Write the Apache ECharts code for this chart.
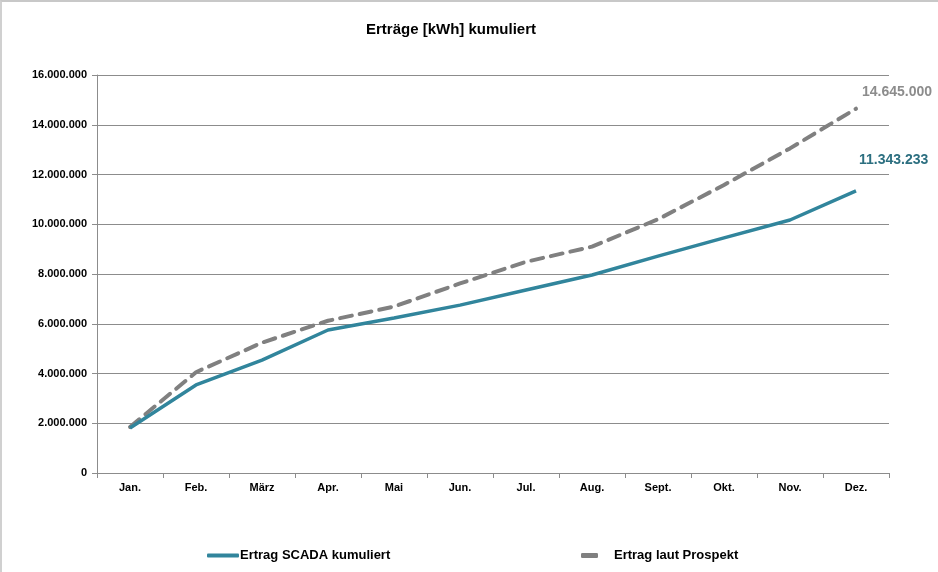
<!DOCTYPE html>
<html>
<head>
<meta charset="utf-8">
<script src="https://cdn.jsdelivr.net/npm/echarts@6/dist/echarts.min.js"></script>
<style>
  html, body { margin: 0; padding: 0; background: #fff; }
  #chart { width: 938px; height: 572px; box-sizing: border-box; border-top: 2px solid #c8c8c8; border-left: 2px solid #d0d0d0; }
</style>
</head>
<body>
<div id="chart"></div>
<script>
// Monate
var months = ['Jan.', 'Feb.', 'März', 'Apr.', 'Mai', 'Jun.', 'Jul.', 'Aug.', 'Sept.', 'Okt.', 'Nov.', 'Dez.']
// kumulierte Erträge in kWh
var scadaValues = [1810000, 3540000, 4540000, 5750000, 6230000, 6750000, 7360000, 7960000, 8720000, 9450000, 10170000, 11343233]
var prospektValues = [1850000, 4050000, 5240000, 6120000, 6690000, 7620000, 8490000, 9100000, 10200000, 11580000, 13050000, 14645000]
var yTicks = [0, 2000000, 4000000, 6000000, 8000000, 10000000, 12000000, 14000000, 16000000]

var font = 'Liberation Sans, Arial, sans-serif'

function deNum(v) {
  return String(v).replace(/\B(?=(\d{3})+(?!\d))/g, '.')
}

var chart = echarts.init(document.getElementById('chart'))
chart.setOption({
  animation: false,
  textStyle: { fontFamily: font },
  title: {
    text: 'Erträge [kWh] kumuliert',
    left: 359,
    top: 15,
    textStyle: { fontSize: 15, fontWeight: 'bold', color: '#000', fontFamily: font }
  },
  grid: {
    left: 95,
    right: 49,
    top: 73,
    bottom: 99
  },
  legend: [{
    left: 200,
    top: 542,
    itemWidth: 32,
    itemHeight: 4,
    itemGap: 0,
    data: [{ name: 'Ertrag SCADA kumuliert', icon: 'roundRect' }],
    textStyle: { fontSize: 13, fontWeight: 'bold', color: '#000', padding: [0, 0, 0, -4] }
  }, {
    left: 574,
    top: 542,
    itemWidth: 17,
    itemHeight: 5,
    data: [{ name: 'Ertrag laut Prospekt', icon: 'roundRect' }],
    textStyle: { fontSize: 13, fontWeight: 'bold', color: '#000', padding: [0, 0, 0, 11] }
  }],
  xAxis: {
    type: 'category',
    data: months,
    boundaryGap: true,
    axisLine: { lineStyle: { color: '#8c8c8c', width: 1 } },
    axisTick: { show: true, length: 5, lineStyle: { color: '#8c8c8c' } },
    axisLabel: { fontSize: 11, fontWeight: 'bold', color: '#000', margin: 9 }
  },
  yAxis: {
    type: 'value',
    min: yTicks[0],
    max: yTicks[yTicks.length - 1],
    interval: yTicks[1] - yTicks[0],
    axisLine: { show: true, lineStyle: { color: '#8c8c8c', width: 1 } },
    axisTick: { show: true, length: 5, lineStyle: { color: '#8c8c8c' } },
    axisLabel: {
      fontSize: 11,
      fontWeight: 'bold',
      color: '#000',
      margin: 10,
      formatter: deNum
    },
    splitLine: { lineStyle: { color: '#8c8c8c', width: 1 } }
  },
  series: [{
    name: 'Ertrag SCADA kumuliert',
    type: 'line',
    data: scadaValues,
    symbol: 'none',
    z: 3,
    color: '#31859c',
    lineStyle: { color: '#31859c', width: 3.5 },
    endLabel: {
      show: true,
      formatter: function (p) { return deNum(p.value) },
      offset: [-5, -31],
      fontSize: 14,
      fontWeight: 'bold',
      color: '#2c6f80',
      fontFamily: font
    }
  }, {
    name: 'Ertrag laut Prospekt',
    type: 'line',
    data: prospektValues,
    symbol: 'none',
    z: 2,
    color: '#808080',
    lineStyle: { color: '#808080', width: 4, type: [12, 8], cap: 'round' },
    endLabel: {
      show: true,
      formatter: function (p) { return deNum(p.value) },
      offset: [-2, -17],
      fontSize: 14,
      fontWeight: 'bold',
      color: '#8c8c8c',
      fontFamily: font
    }
  }]
})
</script>
</body>
</html>
